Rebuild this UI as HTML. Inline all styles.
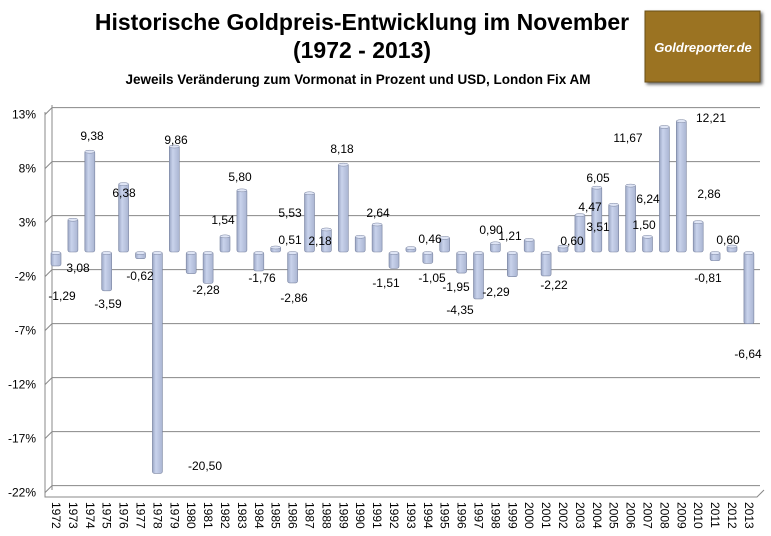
<!DOCTYPE html><html><head><meta charset="utf-8"><style>body{margin:0;background:#fff}svg{display:block}text{font-family:"Liberation Sans",sans-serif}</style></head><body>
<svg width="771" height="536" xmlns="http://www.w3.org/2000/svg">
<defs><linearGradient id="g" x1="0" x2="1"><stop offset="0" stop-color="#9aa6c4"/><stop offset="0.35" stop-color="#c9d3ec"/><stop offset="1" stop-color="#aab5d2"/></linearGradient>
<filter id="sh"><feDropShadow dx="2" dy="2" stdDeviation="1.5" flood-opacity="0.6"/></filter></defs>
<text x="362" y="30" font-size="23" font-weight="bold" text-anchor="middle">Historische Goldpreis-Entwicklung im November</text>
<text x="362" y="58" font-size="23" font-weight="bold" text-anchor="middle">(1972 - 2013)</text>
<text x="358" y="84" font-size="13.5" font-weight="bold" text-anchor="middle">Jeweils Veränderung zum Vormonat in Prozent und USD, London Fix AM</text>
<rect x="645" y="11" width="115" height="71" fill="#9b7321" stroke="#6b4f14" filter="url(#sh)"/>
<text x="703" y="52" font-size="13" font-weight="bold" font-style="italic" fill="#fff" text-anchor="middle">Goldreporter.de</text>
<g id="grid" stroke="#888" stroke-width="1" fill="none"></g>
<g id="bars"></g><g id="lbl" font-size="12"></g><g id="yl" font-size="12" text-anchor="end"></g><g id="xl" font-size="12"></g>
<script>
var ns="http://www.w3.org/2000/svg";function el(p,t,a,tx){var e=document.createElementNS(ns,t);for(var k in a)e.setAttribute(k,a[k]);if(tx)e.textContent=tx;document.getElementById(p).appendChild(e);}
var yt=[13,8,3,-2,-7,-12,-17,-22];
yt.forEach(function(v){var yb=248-v*10.8,yf=yb+7;el("grid","path",{d:"M45 "+yf+" L52 "+yb+" L760 "+yb});el("yl","text",{x:36,y:yf+4},v+"%");});
el("grid","path",{d:"M45 112 L45 497 L757 497 L764 490"});el("grid","path",{d:"M52 105 L52 490"});
var vals=[-1.29,3.08,9.38,-3.59,6.38,-0.62,-20.5,9.86,-2.0,-2.9,1.54,5.8,-1.76,0.51,-2.86,5.53,2.18,8.18,1.5,2.64,-1.51,0.46,-1.05,1.4,-1.95,-4.35,0.9,-2.29,1.21,-2.22,0.6,3.51,6.05,4.47,6.24,1.5,11.67,12.21,2.86,-0.81,0.6,-6.64];
vals.forEach(function(v,i){var cx=56+i*16.9,z=252,y=z-v*10.8,t=Math.min(y,z),h=Math.abs(y-z);if(h<2)h=2;
el("bars","rect",{x:cx-5,y:t,width:10,height:h,fill:"url(#g)",stroke:"#7a84a0","stroke-width":0.6,rx:2});
el("bars","ellipse",{cx:cx,cy:t+1,rx:5,ry:1.5,fill:"#dfe5f5",stroke:"#7a84a0","stroke-width":0.5});
var g=document.createElementNS(ns,"text");g.setAttribute("transform","translate("+(cx-4)+",502) rotate(90)");g.textContent=1972+i;document.getElementById("xl").appendChild(g);});
var L=[["9,38",92,136],["3,08",78,268],["-1,29",62,296],["-3,59",108,304],["6,38",124,193],["-0,62",140,276],["9,86",176,140],["-20,50",205,466],["-2,28",206,290],["1,54",223,220],["5,80",240,177],["-1,76",262,278],["0,51",290,240],["5,53",290,213],["-2,86",294,298],["2,18",320,241],["8,18",342,149],["2,64",378,213],["-1,51",386,283],["0,46",430,239],["-1,05",432,278],["-1,95",456,287],["-4,35",460,310],["0,90",491,230],["-2,29",496,292],["1,21",510,236],["-2,22",554,285],["0,60",572,241],["4,47",590,207],["6,05",598,178],["3,51",598,227],["11,67",628,138],["6,24",648,199],["1,50",644,225],["12,21",711,118],["2,86",709,194],["-0,81",708,278],["0,60",728,240],["-6,64",748,354]];
L.forEach(function(l){el("lbl","text",{x:l[1],y:l[2]+4,"text-anchor":"middle"},l[0]);});
</script></svg></body></html>
